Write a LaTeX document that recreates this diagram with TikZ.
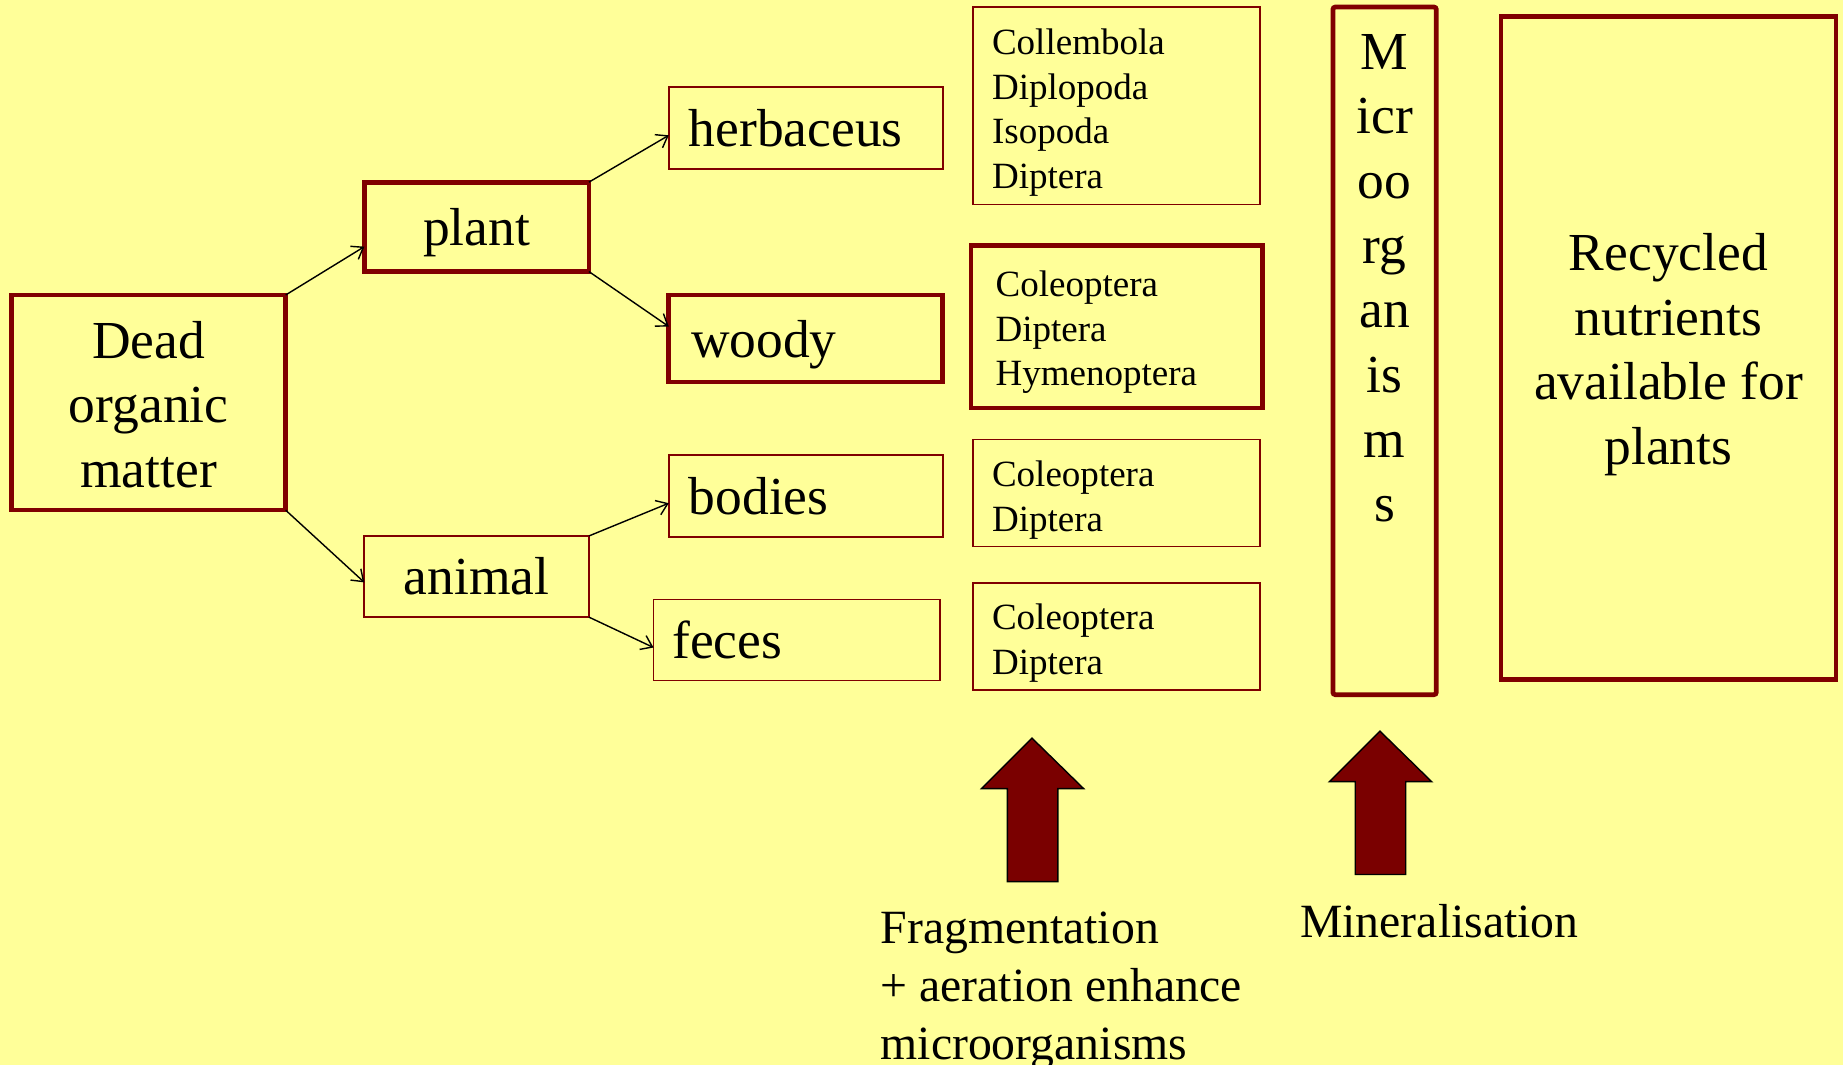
\documentclass[tikz,border=0pt]{standalone}
\usepackage{fontspec}
\setmainfont{Liberation Serif}
\usetikzlibrary{arrows.meta}
\definecolor{bgyellow}{RGB}{255,255,153}
\definecolor{maroonbox}{RGB}{128,0,0}
\definecolor{arrowfill}{RGB}{122,0,0}
\begin{document}
\begin{tikzpicture}[x=1pt,y=-1pt,
  thinbox/.style={draw=maroonbox, line width=1.5pt, fill=bgyellow, inner sep=0pt, outer sep=0pt, anchor=north west},
  thickbox/.style={draw=maroonbox, line width=4pt, fill=bgyellow, inner sep=0pt, outer sep=0pt, anchor=north west},
  bigfont/.style={font=\fontsize{45.5}{55}\selectfont},
  smallfont/.style={font=\fontsize{31.5}{38}\selectfont},
  labelfont/.style={font=\fontsize{40.6}{49}\selectfont},
  conn/.style={draw=black, line width=1.2pt, -{Straight Barb[length=9pt,width=13pt]}},
  blockarrow/.style={draw=black, line width=1.2pt, fill=arrowfill, line join=miter}]
\useasboundingbox (0,0) rectangle (1568,906);
\fill[bgyellow] (0,0) rectangle (1568,906);

% first column
\node[thickbox, bigfont, align=center, minimum width=233pt, minimum height=183pt] (dead) at (10,251) {\rule{0pt}{35pt}Dead\\organic\\matter};
% second column
\node[thickbox, bigfont, text depth=0pt, minimum width=191pt, minimum height=76pt] (plant) at (310,155) {plant};
\node[thinbox, bigfont, minimum width=191pt, minimum height=69pt] (animal) at (310,456) {animal};
% third column
\node[thinbox, bigfont, text width=199pt, align=left, inner xsep=17pt, minimum height=70pt] (herb) at (569,74) {herbaceus};
\node[thickbox, bigfont, text depth=0pt, text width=195pt, align=left, inner xsep=19pt, minimum height=74pt] (woody) at (569,251) {woody};
\node[thinbox, bigfont, text width=199pt, align=left, inner xsep=17pt, minimum height=70pt] (bodies) at (569,387) {bodies};
\node[thinbox, bigfont, text width=212pt, align=left, inner xsep=16pt, minimum height=69pt] (feces) at (556,510) {feces};
% fourth column
\node[thinbox, smallfont, text width=212pt, align=left, inner xsep=16pt, minimum height=168pt] (fauna1) at (828,6) {\rule{0pt}{33.5pt}Collembola\\Diplopoda\\Isopoda\\Diptera};
\node[thickbox, smallfont, text width=206pt, align=left, inner xsep=21pt, minimum height=138pt] (fauna2) at (826,209) {\rule{0pt}{31.5pt}Coleoptera\\Diptera\\Hymenoptera};
\node[thinbox, smallfont, text width=212pt, align=left, inner xsep=16pt, minimum height=91pt] (fauna3) at (828,374) {\rule{0pt}{33.5pt}Coleoptera\\Diptera};
\node[thinbox, smallfont, text width=212pt, align=left, inner xsep=16pt, minimum height=91pt] (fauna4) at (828,496) {\rule{0pt}{33.5pt}Coleoptera\\Diptera};
% microorganisms
\node[thickbox, rounded corners=2pt, minimum width=88pt, minimum height=585pt] (micro) at (1134,6) {};
\node[bigfont, align=center, anchor=north, inner sep=0pt] (microtext) at (1178,29) {M\\icr\\oo\\rg\\an\\is\\m\\s};
% recycled
\node[thickbox, bigfont, align=center, minimum width=285pt, minimum height=564pt] (recycled) at (1277,14) {\rule{0pt}{43pt}Recycled\\nutrients\\available for\\plants};

% connectors
\draw[conn] (dead.north east) -- (plant.190);
\draw[conn] (dead.south east) -- (animal.183);
\draw[conn] (plant.north east) -- (herb.183);
\draw[conn] (plant.south east) -- (woody.175);
\draw[conn] (animal.north east) -- (bodies.183);
\draw[conn] (animal.south east) -- (feces.183);

% block arrows
\draw[blockarrow] (857,750) -- (857,671) -- (835,671) -- (878,628) -- (922,671) -- (900,671) -- (900,750) -- cycle;
\draw[blockarrow] (1153,744) -- (1153,665) -- (1131,665) -- (1174,622) -- (1218,665) -- (1196,665) -- (1196,744) -- cycle;

% labels
\node[labelfont, align=left, anchor=north west, inner sep=0pt] (fraglabel) at (749,776) {Fragmentation\\+ aeration enhance\\microorganisms};
\node[labelfont, anchor=north west, inner sep=0pt] (minlabel) at (1106,769) {Mineralisation};
\end{tikzpicture}
\end{document}
